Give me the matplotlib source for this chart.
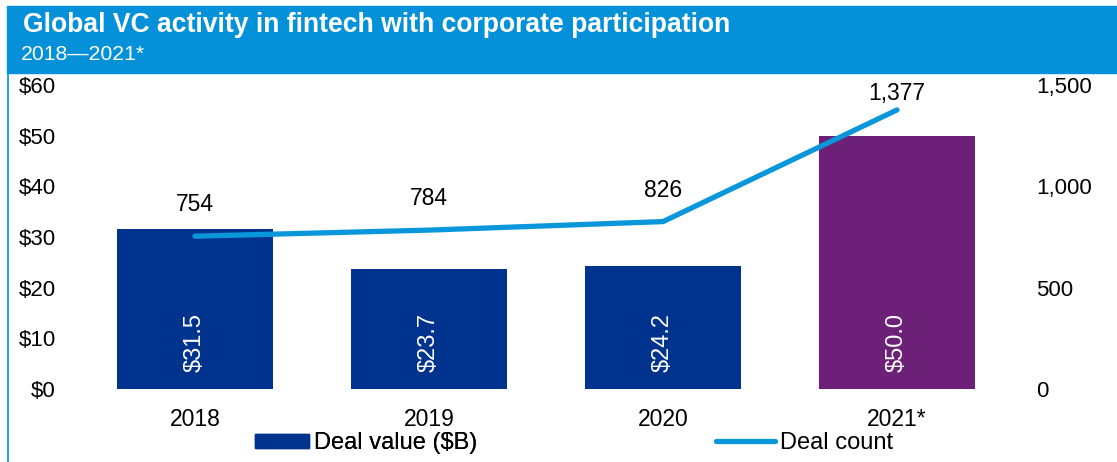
import numpy as np
import matplotlib.pyplot as plt
from matplotlib.patches import Rectangle
from matplotlib.lines import Line2D
from matplotlib.ticker import FuncFormatter

plt.rcParams['font.family'] = ['Liberation Sans', 'DejaVu Sans']

# data
years = ['2018', '2019', '2020', '2021*']
deal_value = [31.5, 23.7, 24.2, 50.0]
deal_count = [754, 784, 826, 1377]
bar_colors = ['#00338D', '#00338D', '#00338D', '#6D2077']

W, H = 1117, 462
fig = plt.figure(figsize=(W / 100, H / 100), dpi=100)

# header band + left border
fig.patches.append(Rectangle((7 / W, 1 - 72.5 / H), 1 - 7 / W, 66.5 / H,
                             transform=fig.transFigure, color='#0591D9', zorder=0))
fig.lines.append(Line2D([7.5 / W, 7.5 / W], [0, 1 - 72 / H], transform=fig.transFigure,
                        color='#0591D9', lw=1.2))
fig.text(23 / W, 1 - 25 / H, 'Global VC activity in fintech with corporate participation',
         color='white', fontsize=19.1, fontweight='bold', va='center', ha='left')
fig.text(21 / W, 1 - 54 / H, '2018\u20142021*', color='white', fontsize=15.3,
         va='center', ha='left')

ax = fig.add_axes([78 / W, (H - 389) / H, (1014 - 78) / W, (389 - 85) / H])
x = np.arange(len(years))
ax.bar(x, deal_value, width=0.667, color=bar_colors, zorder=2)
for xi, v in zip(x, deal_value):
    ax.text(xi, 9.2, f'${v:.1f}', rotation=90, color='white', fontsize=17,
            ha='center', va='center', zorder=3)

ax.set_xlim(-0.5, 3.5)
ax.set_ylim(0, 60)
ax.set_yticks([0, 10, 20, 30, 40, 50, 60])
ax.yaxis.set_major_formatter(FuncFormatter(lambda v, p: f'${v:.0f}'))
ax.set_xticks(x)
ax.set_xticklabels(years)
ax.tick_params(axis='y', length=0, labelsize=16, pad=16)
ax.tick_params(axis='x', length=0, labelsize=16.5, pad=14)
for s in ax.spines.values():
    s.set_visible(False)

ax2 = ax.twinx()
ax2.plot(x, deal_count, color='#0A96DB', lw=3.8, solid_capstyle='round', zorder=4)
for xi, c in zip(x, deal_count):
    # keep the label under the header band
    ax2.text(xi, min(c + 155, 1460), f'{c:,}', ha='center', va='center', fontsize=16.5)
ax2.set_ylim(0, 1500)
ax2.set_yticks([0, 500, 1000, 1500])
ax2.yaxis.set_major_formatter(FuncFormatter(lambda v, p: f'{v:,.0f}'))
ax2.tick_params(axis='y', length=0, labelsize=16, pad=16)
for s in ax2.spines.values():
    s.set_visible(False)

# legend, two entries placed separately
leg_kw = dict(loc='center left', frameon=False, fontsize=17, borderpad=0,
              borderaxespad=0, handletextpad=0.2)
leg1 = fig.legend([Rectangle((0, 0), 1, 1, color='#00338D')], ['Deal value ($B)'],
                  bbox_to_anchor=(255 / W, 1 - 443 / H), handlelength=2.3,
                  handleheight=0.55, **leg_kw)
fig.legend([Line2D([], [], color='#0A96DB', lw=3.8, solid_capstyle='round')],
           ['Deal count'], bbox_to_anchor=(716 / W, 1 - 443 / H),
           handlelength=2.5, **leg_kw)
fig.add_artist(leg1)

fig.savefig('out.png', dpi=100)
